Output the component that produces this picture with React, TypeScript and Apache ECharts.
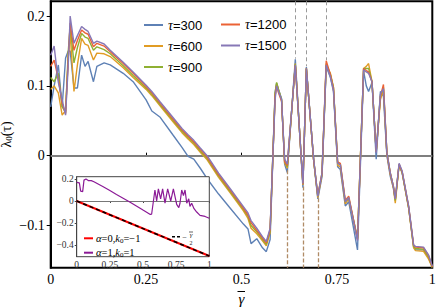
import React, { useEffect, useRef } from "react";
import * as echarts from "echarts";

// shared gamma grid for the main curves
const gammaGrid = [
  0, 0.009, 0.02, 0.03, 0.039, 0.046, 0.051, 0.061, 0.07, 0.081,
  0.09, 0.098, 0.112, 0.121, 0.14, 0.156, 0.19, 0.216, 0.25, 0.265,
  0.287, 0.32, 0.344, 0.36, 0.375, 0.392, 0.41, 0.44, 0.47, 0.505,
  0.517, 0.525, 0.54, 0.555, 0.565, 0.575, 0.588, 0.592, 0.597, 0.605,
  0.613, 0.62, 0.641, 0.661, 0.67, 0.689, 0.7, 0.711, 0.722, 0.733,
  0.741, 0.752, 0.759, 0.772, 0.781, 0.804, 0.82, 0.827, 0.833, 0.842,
  0.853, 0.864, 0.872, 0.881, 0.89, 0.898, 0.903, 0.913, 0.921, 0.938,
  0.951, 0.956, 0.977, 0.99, 1.0,
];

const tau300 = [
  0.07, 0.1, 0.13, 0.07, 0.14, 0.15, 0.15, 0.097, 0.097, 0.144,
  0.128, 0.135, 0.106, 0.128, 0.133, 0.13, 0.118, 0.106, 0.08, 0.064,
  0.055, 0.03, 0.012, -0.001, -0.005, -0.018, -0.033, -0.055, -0.075, -0.098,
  -0.105, -0.126, -0.119, -0.132, -0.1375, -0.12, 0.09, 0.104, 0.095, 0.082,
  -0.012, -0.024, 0.138, -0.046, 0.127, -0.006, -0.062, -0.03, 0.128, 0.112,
  0.092, -0.016, -0.02, -0.072, -0.066, -0.135, 0.121, 0.1, 0.092, 0.105,
  -0.005, 0.092, 0.085, 0.0, -0.03, -0.046, -0.064, -0.013, -0.025, -0.075,
  -0.13, -0.135, -0.135, -0.146, -0.16,
];

const tau600 = [
  0.095, 0.1, 0.09, 0.058, 0.065, 0.14, 0.175, 0.092, 0.13, 0.168,
  0.16, 0.158, 0.137, 0.147, 0.146, 0.142, 0.126, 0.112, 0.095, 0.086,
  0.071, 0.049, 0.033, 0.024, 0.016, 0.005, -0.006, -0.031, -0.053, -0.079,
  -0.09, -0.104, -0.112, -0.122, -0.129, -0.11, 0.085, 0.103, 0.094, 0.08,
  -0.01, -0.018, 0.132, -0.042, 0.125, -0.006, -0.06, -0.027, 0.13, 0.118,
  0.098, -0.014, -0.016, -0.069, -0.062, -0.12, 0.125, 0.128, 0.132, 0.106,
  0.006, 0.08, 0.094, 0.002, -0.027, -0.046, -0.068, -0.013, -0.024, -0.075,
  -0.132, -0.136, -0.137, -0.148, -0.16,
];

const tau900 = [
  0.112, 0.106, 0.118, 0.07, 0.062, 0.15, 0.185, 0.133, 0.155, 0.175,
  0.17, 0.168, 0.151, 0.156, 0.152, 0.146, 0.129, 0.115, 0.097, 0.088,
  0.073, 0.051, 0.035, 0.026, 0.018, 0.007, -0.004, -0.029, -0.051, -0.077,
  -0.087, -0.1, -0.109, -0.12, -0.127, -0.108, 0.09, 0.105, 0.095, 0.08,
  -0.008, -0.016, 0.131, -0.041, 0.125, -0.006, -0.058, -0.025, 0.132, 0.116,
  0.098, -0.011, -0.012, -0.066, -0.06, -0.118, 0.125, 0.125, 0.125, 0.106,
  0.006, 0.085, 0.098, 0.004, -0.025, -0.044, -0.064, -0.013, -0.024, -0.074,
  -0.13, -0.133, -0.134, -0.145, -0.16,
];

const tau1200 = [
  0.128, 0.137, 0.11, 0.075, 0.06, 0.14, 0.19, 0.151, 0.165, 0.18,
  0.176, 0.174, 0.156, 0.161, 0.157, 0.149, 0.132, 0.118, 0.099, 0.09,
  0.075, 0.053, 0.037, 0.028, 0.02, 0.009, -0.002, -0.027, -0.049, -0.075,
  -0.085, -0.096, -0.107, -0.118, -0.125, -0.106, 0.085, 0.1, 0.09, 0.078,
  -0.008, -0.014, 0.13, -0.041, 0.125, -0.006, -0.057, -0.025, 0.136, 0.116,
  0.096, -0.009, -0.011, -0.064, -0.058, -0.12, 0.125, 0.122, 0.12, 0.106,
  0.006, 0.085, 0.102, 0.004, -0.025, -0.044, -0.062, -0.012, -0.023, -0.073,
  -0.128, -0.131, -0.132, -0.143, -0.159,
];

const tau1500 = [
  0.144, 0.157, 0.105, 0.08, 0.058, 0.13, 0.2, 0.161, 0.172, 0.185,
  0.181, 0.178, 0.161, 0.164, 0.16, 0.151, 0.134, 0.12, 0.101, 0.092,
  0.077, 0.055, 0.039, 0.03, 0.022, 0.011, 0.0, -0.025, -0.047, -0.073,
  -0.082, -0.093, -0.104, -0.116, -0.123, -0.104, 0.08, 0.1, 0.092, 0.08,
  -0.005, -0.012, 0.13, -0.04, 0.125, -0.004, -0.058, -0.025, 0.13, 0.113,
  0.094, -0.011, -0.013, -0.066, -0.06, -0.122, 0.123, 0.12, 0.118, 0.106,
  0.004, 0.088, 0.096, 0.004, -0.025, -0.044, -0.062, -0.011, -0.022, -0.072,
  -0.128, -0.13, -0.131, -0.142, -0.158,
];

const seriesNames = ["τ=300", "τ=600", "τ=900", "τ=1200", "τ=1500"];
const seriesColors = ["#5E81B5", "#E19C24", "#8FB032", "#EB6235", "#8778B6"];

const peakGamma = [0.641, 0.67, 0.722];
const peakValue = [0.139, 0.128, 0.137];
const troughGamma = [0.62, 0.661, 0.7];
const troughValue = [-0.021, -0.044, -0.061];

const xTicks = [0, 0.25, 0.5, 0.75, 1];
const yTicks = [-0.1, 0, 0.1, 0.2];
const insetYTicks = [-0.4, -0.2, 0, 0.2];

// inset data
const insetGamma = [
  0, 0.02, 0.03, 0.045, 0.055, 0.07, 0.09, 0.11, 0.13, 0.2,
  0.25, 0.3, 0.35, 0.4, 0.45, 0.5, 0.555, 0.565, 0.59, 0.603,
  0.616, 0.633, 0.648, 0.666, 0.686, 0.709, 0.729, 0.754, 0.77, 0.779,
  0.792, 0.805, 0.817, 0.83, 0.845, 0.854, 0.867, 0.885, 0.905, 0.93,
  0.968, 1.0,
];
const insetPurple = [
  0.17, 0.165, 0.09, 0.085, 0.19, 0.2, 0.185, 0.185, 0.175, 0.13,
  0.095, 0.06, 0.026, -0.008, -0.045, -0.082, -0.122, -0.12, 0.1, 0.0,
  0.11, 0.02, 0.11, -0.02, 0.11, 0.0, 0.11, -0.03, -0.06, -0.02,
  0.1, 0.05, 0.1, -0.02, 0.02, -0.05, -0.02, -0.07, -0.1, -0.13,
  -0.14, -0.157,
];
const insetLineGamma = [0, 1];
const insetLineValue = [0, -0.5];

const Y_MIN = -0.1605;
const Y_MAX = 0.2212;
const IY_MIN = -0.506;
const IY_MAX = 0.221;

const SERIF = "'Liberation Serif', 'DejaVu Serif', serif";
const SANS = "'Liberation Sans', Arial, sans-serif";

const fmtNum = (v: number) => {
  const r = Math.round(v * 1000) / 1000;
  return r < 0 ? "−" + String(Math.abs(r)) : String(r);
};

export default function App() {
  const ref = useRef<HTMLDivElement>(null);
  useEffect(() => {
    document.body.style.margin = "0";
    const chart = echarts.init(ref.current!, null, { renderer: "svg" });

    const mainSeries: any[] = [tau300, tau600, tau900, tau1200, tau1500].map((vals, k) => ({
      type: "line",
      name: seriesNames[k],
      xAxisIndex: 0,
      yAxisIndex: 0,
      data: gammaGrid.map((g, i) => [g, vals[i]]),
      symbol: "none",
      showSymbol: false,
      color: seriesColors[k],
      lineStyle: { width: 1.4, color: seriesColors[k] },
      z: 3,
    }));

    mainSeries[0].markLine = {
      silent: true,
      symbol: ["none", "none"],
      label: { show: false },
      lineStyle: { color: "#aaaaaa", width: 1.5, type: "solid" },
      data: [{ yAxis: 0 }],
      z: 1,
    };
    mainSeries[4].markLine = {
      silent: true,
      symbol: ["none", "none"],
      label: { show: false },
      data: [
        ...peakGamma.map((g, i) => [
          { coord: [g, Y_MAX], lineStyle: { color: "#9a9a9a", width: 1, type: [4, 3] } },
          { coord: [g, peakValue[i]] },
        ]),
        ...troughGamma.map((g, i) => [
          { coord: [g, troughValue[i]], lineStyle: { color: "#b08b66", width: 1.3, type: [4, 2] } },
          { coord: [g, Y_MIN] },
        ]),
      ],
    };

    const insetSeries: any[] = [
      {
        type: "line",
        name: "α=1,k0=1",
        xAxisIndex: 1,
        yAxisIndex: 1,
        data: insetGamma.map((g, i) => [g, insetPurple[i]]),
        symbol: "none",
        color: "#8B1A96",
        lineStyle: { width: 1.2, color: "#8B1A96" },
        z: 5,
        markLine: {
          silent: true,
          symbol: ["none", "none"],
          label: { show: false },
          lineStyle: { color: "#777", width: 1, type: "solid" },
          data: [{ yAxis: 0 }],
        },
      },
      {
        type: "line",
        name: "α=0,k0=−1",
        xAxisIndex: 1,
        yAxisIndex: 1,
        data: insetLineGamma.map((g, i) => [g, insetLineValue[i]]),
        symbol: "none",
        color: "#FF0000",
        lineStyle: { width: 2, color: "#FF0000" },
        z: 5,
      },
      {
        type: "line",
        name: "−γ/2",
        xAxisIndex: 1,
        yAxisIndex: 1,
        data: insetLineGamma.map((g, i) => [g, insetLineValue[i]]),
        symbol: "none",
        color: "#000",
        lineStyle: { width: 1.5, color: "#000", type: [4, 3] },
        z: 6,
      },
    ];

    const legendRich = {
      t: { fontFamily: SERIF, fontStyle: "italic", fontSize: 14, color: "#000" },
      n: { fontFamily: SANS, fontSize: 13, color: "#000" },
    };
    const legendCommon = {
      orient: "vertical",
      icon: "rect",
      itemWidth: 19,
      itemHeight: 2,
      itemGap: 7,
      selectedMode: false,
      formatter: (name: string) => "{t|τ}{n|" + name.slice(1) + "}",
      textStyle: { lineHeight: 14, rich: legendRich },
    };

    const insetLegendRich = {
      i: { fontFamily: SERIF, fontStyle: "italic", fontSize: 10.5, color: "#222" },
      r: { fontFamily: SERIF, fontSize: 10.5, color: "#222" },
      s: { fontFamily: SERIF, fontSize: 7, color: "#222", padding: [5, 0, 0, 0] },
    };

    chart.setOption({
      animation: false,
      backgroundColor: "#fff",
      grid: [
        {
          left: 50.7, top: 1.3, right: 3.7, bottom: 40.3,
          outerBoundsMode: "none", containLabel: false,
          show: true, borderColor: "#000", borderWidth: 2, backgroundColor: "transparent",
        },
        {
          left: 76.7, top: 176.7, width: 132.6, height: 80,
          outerBoundsMode: "none", containLabel: false,
          show: true, borderColor: "#444", borderWidth: 1, backgroundColor: "#fff", z: 4,
        },
      ],
      legend: [
        { ...legendCommon, data: seriesNames.slice(0, 3), left: 139, top: 13 },
        { ...legendCommon, data: seriesNames.slice(3), left: 216, top: 12.5 },
      ],
      xAxis: [
        {
          type: "value", gridIndex: 0, min: 0, max: 1, interval: 0.25,
          axisLine: { lineStyle: { color: "#000", width: 2 } },
          axisTick: { inside: true, length: 3, lineStyle: { color: "#000" }, customValues: xTicks },
          axisLabel: {
            customValues: xTicks, formatter: fmtNum, margin: 5,
            fontFamily: SERIF, fontSize: 14, color: "#000",
          },
          splitLine: { show: false },
        },
        {
          type: "value", gridIndex: 1, min: 0, max: 1, interval: 0.25, z: 4,
          axisLine: { lineStyle: { color: "#444", width: 1 } },
          axisTick: { length: 2, lineStyle: { color: "#444" }, customValues: xTicks },
          axisLabel: {
            customValues: xTicks, formatter: fmtNum, margin: 3,
            fontFamily: SERIF, fontSize: 9.5, color: "#333",
          },
          splitLine: { show: false },
        },
      ],
      yAxis: [
        {
          type: "value", gridIndex: 0, min: Y_MIN, max: Y_MAX,
          name: "{a|λ}{s|0}{a|(τ)}",
          nameLocation: "middle",
          nameRotate: 90,
          nameGap: 37,
          nameMoveOverlap: false,
          nameTextStyle: {
            rich: {
              a: { fontFamily: SERIF, fontSize: 14, color: "#000" },
              s: { fontFamily: SERIF, fontSize: 9, color: "#000", padding: [6, 0, 0, 0] },
            },
          },
          axisLine: { lineStyle: { color: "#000", width: 2 } },
          axisTick: { length: 4, lineStyle: { color: "#000" }, customValues: yTicks },
          axisLabel: {
            customValues: yTicks, formatter: fmtNum, margin: 6,
            fontFamily: SERIF, fontSize: 14, color: "#000",
          },
          splitLine: { show: false },
        },
        {
          type: "value", gridIndex: 1, min: IY_MIN, max: IY_MAX, z: 4,
          axisLine: { lineStyle: { color: "#444", width: 1 } },
          axisTick: { length: 2, lineStyle: { color: "#444" }, customValues: insetYTicks },
          axisLabel: {
            customValues: insetYTicks, formatter: fmtNum, margin: 3,
            fontFamily: SERIF, fontSize: 9.5, color: "#333",
          },
          splitLine: { show: false },
        },
      ],
      series: [...mainSeries, ...insetSeries],
      graphic: [
        // x-axis title: gamma with overline
        {
          type: "text", x: 241.5, y: 299, z: 10,
          style: { text: "γ", fontFamily: SERIF, fontStyle: "italic", fontSize: 15, fill: "#000", align: "center", verticalAlign: "middle" },
        },
        {
          type: "line", z: 10,
          shape: { x1: 237.5, y1: 291.5, x2: 245, y2: 291.5 },
          style: { stroke: "#000", lineWidth: 1 },
        },
        // inset legend
        {
          type: "line", z: 10,
          shape: { x1: 84, y1: 238.3, x2: 93, y2: 238.3 },
          style: { stroke: "#FF0000", lineWidth: 2 },
        },
        {
          type: "text", x: 96, y: 238.3, z: 10,
          style: { text: "{i|α}{r|=0,}{i|k}{s|0}{r|=−1}", rich: insetLegendRich, verticalAlign: "middle" },
        },
        {
          type: "line", z: 10,
          shape: { x1: 84, y1: 252.7, x2: 93, y2: 252.7 },
          style: { stroke: "#8B1A96", lineWidth: 2 },
        },
        {
          type: "text", x: 96, y: 252.7, z: 10,
          style: { text: "{i|α}{r|=1,}{i|k}{s|0}{r|=1}", rich: insetLegendRich, verticalAlign: "middle" },
        },
        {
          type: "line", z: 10,
          shape: { x1: 172, y1: 236.7, x2: 181, y2: 236.7 },
          style: { stroke: "#000", lineWidth: 1.5, lineDash: [3, 2] },
        },
        {
          type: "text", x: 184.5, y: 237, z: 10,
          style: { text: "−", fontFamily: SERIF, fontSize: 8, fill: "#222", align: "center", verticalAlign: "middle" },
        },
        {
          type: "text", x: 191, y: 235, z: 10,
          style: { text: "γ", fontFamily: SERIF, fontStyle: "italic", fontSize: 7, fill: "#222", align: "center", verticalAlign: "middle" },
        },
        {
          type: "line", z: 10,
          shape: { x1: 189, y1: 232, x2: 193, y2: 232 },
          style: { stroke: "#222", lineWidth: 0.7 },
        },
        {
          type: "text", x: 191, y: 243, z: 10,
          style: { text: "2", fontFamily: SERIF, fontSize: 6, fill: "#222", align: "center", verticalAlign: "middle" },
        },
      ],
    });

    return () => chart.dispose();
  }, []);

  return (
    <div
      ref={ref}
      style={{ position: "absolute", left: 0, top: 0, width: 436, height: 308 }}
    />
  );
}
